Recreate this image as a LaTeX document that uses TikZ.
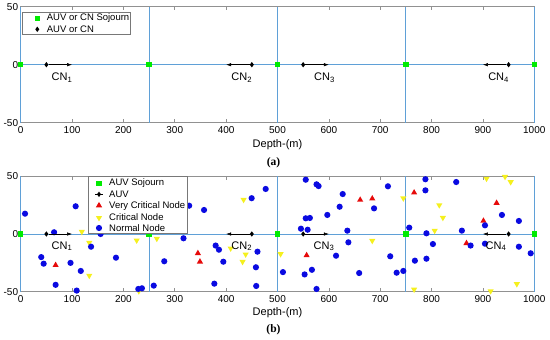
\documentclass[tikz,border=0pt]{standalone}
\usepackage{fontspec}
\setmainfont{Liberation Sans}
\newfontfamily\serifbold{Liberation Serif}
\usetikzlibrary{shapes.geometric,arrows.meta}

\definecolor{gridblue}{RGB}{95,160,215}
\definecolor{axgray}{RGB}{145,145,145}
\definecolor{leggray}{RGB}{120,120,120}
\definecolor{sojgreen}{RGB}{0,235,0}
\definecolor{nblue}{RGB}{10,10,225}
\definecolor{nred}{RGB}{230,10,10}
\definecolor{nyellow}{RGB}{245,240,30}

\begin{document}
\begin{tikzpicture}[x=1pt,y=1pt,
  axbox/.style={draw=axgray,line width=0.6pt},
  tickmark/.style={draw=axgray,line width=0.6pt},
  gridln/.style={draw=gridblue,line width=0.9pt},
  sojourn/.style={rectangle,fill=sojgreen,inner sep=0,minimum size=5.5pt},
  auv/.style={diamond,fill=black,inner sep=0,minimum width=4.2pt,minimum height=5.6pt},
  normal/.style={circle,fill=nblue,inner sep=0,minimum size=6.2pt},
  vcrit/.style={regular polygon,regular polygon sides=3,fill=nred,inner sep=0,minimum size=7.2pt},
  crit/.style={regular polygon,regular polygon sides=3,shape border rotate=180,fill=nyellow,inner sep=0,minimum size=7.2pt},
  cnarrow/.style={draw=black,line width=0.5pt,-{Latex[length=5pt,width=3.4pt]}},
  cnlab/.style={anchor=base west,inner sep=0,font=\fontsize{11}{13}\selectfont},
  xtick/.style={inner sep=0,yshift=-7.7pt,font=\fontsize{10}{12}\selectfont},
  ytick/.style={anchor=east,inner sep=0,xshift=-2.4pt,font=\fontsize{10}{12}\selectfont},
  xlab/.style={inner sep=0,font=\fontsize{11}{13}\selectfont},
  panlab/.style={inner sep=0,font=\fontsize{11.5}{13}\serifbold\bfseries},
  legframe/.style={draw=leggray,fill=white,line width=0.6pt},
  legtext/.style={anchor=west,inner sep=0,font=\fontsize{9.5}{11}\selectfont}
]
\useasboundingbox (0,0) rectangle (550,-340);

% ================= panel (a) =================
\begin{scope}[shift={(20.7pt,-64.7pt)},x=0.5136pt,y=1.16pt]
  \draw[axbox] (0,-50) rectangle (1000,50);
  \foreach \t in {100,200,...,900} {
    \draw[tickmark] (\t,-50) -- ++(0,3.5pt);
    \draw[tickmark] (\t,50) -- ++(0,-3.5pt);
  }
  \draw[gridln] (0,0) -- (1000,0);
  \foreach \g in {0,250,500,750,1000} \draw[gridln] (\g,-50) -- (\g,50);
  \foreach \t in {0,100,...,1000} \node[xtick] (xa\t) at (\t,-50) {\t};
  \node[ytick] (ya1) at (0,50) {50};
  \node[ytick] (ya2) at (0,0) {0};
  \node[ytick] (ya3) at (0,-50) {-50};
  \foreach \s [count=\i] in {0,250,500,750,1000} \node[sojourn] (sa\i) at (\s,0) {};
  \node[auv] (da1) at (50,0) {};
  \node[auv] (da2) at (450,0) {};
  \node[auv] (da3) at (550,0) {};
  \node[auv] (da4) at (950,0) {};
  \coordinate (tipa1) at (100,0);
  \coordinate (tipa2) at (400,0);
  \coordinate (tipa3) at (600,0);
  \coordinate (tipa4) at (900,0);
  \foreach \i in {1,...,4} \draw[cnarrow] (da\i) -- (tipa\i);
  \node[cnlab] (la1) at (60,-13.9) {CN\textsubscript{1}};
  \node[cnlab] (la2) at (410,-13.9) {CN\textsubscript{2}};
  \node[cnlab] (la3) at (571,-13.9) {CN\textsubscript{3}};
  \node[cnlab] (la4) at (910,-13.9) {CN\textsubscript{4}};
\end{scope}
\node[xlab] (xlaba) at (277.5,-145) {Depth-(m)};
\node[panlab] (pa) at (273.5,-162.5) {(a)};
% legend (a)
\draw[legframe] (22,-12.7) rectangle (130,-34.3);
\node[sojourn] (lga1) at (37.3,-18.3) {};
\node[legtext] (lgta1) at (46.7,-18.3) {AUV or CN Sojourn};
\node[auv] (lga2) at (37.3,-29.3) {};
\node[legtext] (lgta2) at (46.7,-29.3) {AUV or CN};

% ================= panel (b) =================
\begin{scope}[shift={(20.7pt,-234pt)},x=0.5136pt,y=1.155pt]
  \draw[axbox] (0,-50) rectangle (1000,50);
  \foreach \t in {100,200,...,900} {
    \draw[tickmark] (\t,-50) -- ++(0,3.5pt);
    \draw[tickmark] (\t,50) -- ++(0,-3.5pt);
  }
  \draw[gridln] (0,0) -- (1000,0);
  \foreach \g in {0,250,500,750,1000} \draw[gridln] (\g,-50) -- (\g,50);
  \foreach \t in {0,100,...,1000} \node[xtick] (xb\t) at (\t,-50) {\t};
  \node[ytick] (yb1) at (0,50) {50};
  \node[ytick] (yb2) at (0,0) {0};
  \node[ytick] (yb3) at (0,-50) {-50};
  % critical nodes
  \foreach \p [count=\i] in {(230,-49.5),(119,2),(133.5,-7.5),(133.5,-36),(225.8,-5.5),(265,-4),
      (434,29.7),(408.8,-12.4),(438,-17.6),(432,-24),(506,-17.3),(684.5,-5.8),
      (745,31),(815,25),(822,14.1),(806,2.9),(766,-48),(907,48),(943,49.6),
      (954,45),(966,-43.3),(915,-49.4)}
    \node[crit] (cr\i) at \p {};
  % very critical nodes
  \foreach \p [count=\i] in {(68,-27),(345,-16.7),(349,-24),(556.7,-18.5),(661,29.5),
      (684.5,30.6),(766,35.8),(868,-8),(901,11.3),(926.6,26.8)}
    \node[vcrit] (vc\i) at \p {};
  % normal nodes
  \foreach \p [count=\i] in {(8.4,17.6),(107,24),(65,1.5),(137,-11),(155.6,0),(40,-20),
      (44.7,-25.7),(97,-25),(117,-32),(68,-44),(109,-49),(185.5,-20.5),(279.5,-23.6),
      (259,-44.7),(229,-47.6),(236,-47),(317,-3.7),(328,24.5),(357,20.8),(379.6,-10),
      (386,-13.6),(394.5,-24),(461,-15.3),(458,-28.8),(377,-43),(458.6,-45),(449.7,31),
      (477,39),(555,47),(576,43),(580,41.5),(627,34.6),(621,23.6),(597,16.5),(555,13.6),
      (563,13.9),(545.6,4.6),(558.7,3.7),(636,2.9),(638,-7.2),(614,-18.8),(567,-31),
      (552.8,-35),(510.6,-33),(576,-47.6),(659,-33.8),(688,22.2),(715,41.3),(719.5,-19.3),
      (732,-33.5),(745,-32),(788,47.4),(788,37.8),(848,45),(756.5,5.5),(790,0.6),
      (859,2.9),(802.6,-8.7),(767.5,-23.1),(790,-21.4),(937,16.5),(970,11.3),(904,7.5),
      (876,-10),(904,-8.4),(970,-11),(993,-16.7)}
    \node[normal] (nn\i) at \p {};
  \foreach \s [count=\i] in {0,250,500,750,1000} \node[sojourn] (sb\i) at (\s,0) {};
  \node[auv] (db1) at (50,0) {};
  \node[auv] (db2) at (450,0) {};
  \node[auv] (db3) at (550,0) {};
  \node[auv] (db4) at (950,0) {};
  \coordinate (tipb1) at (100,0);
  \coordinate (tipb2) at (400,0);
  \coordinate (tipb3) at (600,0);
  \coordinate (tipb4) at (900,0);
  \foreach \i in {1,...,4} \draw[cnarrow] (db\i) -- (tipb\i);
  \node[cnlab] (lb1) at (60,-13.1) {CN\textsubscript{1}};
  \node[cnlab] (lb2) at (410,-13.1) {CN\textsubscript{2}};
  \node[cnlab] (lb3) at (570,-13.1) {CN\textsubscript{3}};
  \node[cnlab] (lb4) at (905,-13.1) {CN\textsubscript{4}};
\end{scope}
\node[xlab] (xlabb) at (277.5,-313) {Depth-(m)};
\node[panlab] (pb) at (273.5,-329.5) {(b)};
% legend (b)
\draw[legframe] (88.3,-176.7) rectangle (187.3,-233.3);
\node[sojourn] (lgb1) at (99,-183.3) {};
\node[legtext] (lgtb1) at (109,-183.3) {AUV Sojourn};
\coordinate (lgbl1) at (95,-194.3);
\coordinate (lgbl2) at (103,-194.3);
\draw[black,line width=0.5pt] (lgbl1) -- (lgbl2);
\node[auv] (lgb2) at (99,-194.3) {};
\node[legtext] (lgtb2) at (109,-194.3) {AUV};
\node[vcrit] (lgb3) at (99,-205.5) {};
\node[legtext] (lgtb3) at (109,-206) {Very Critical Node};
\node[crit] (lgb4) at (99,-217.8) {};
\node[legtext] (lgtb4) at (109,-217.3) {Critical Node};
\node[normal] (lgb5) at (99,-228) {};
\node[legtext] (lgtb5) at (109,-228) {Normal Node};
\end{tikzpicture}
\end{document}
